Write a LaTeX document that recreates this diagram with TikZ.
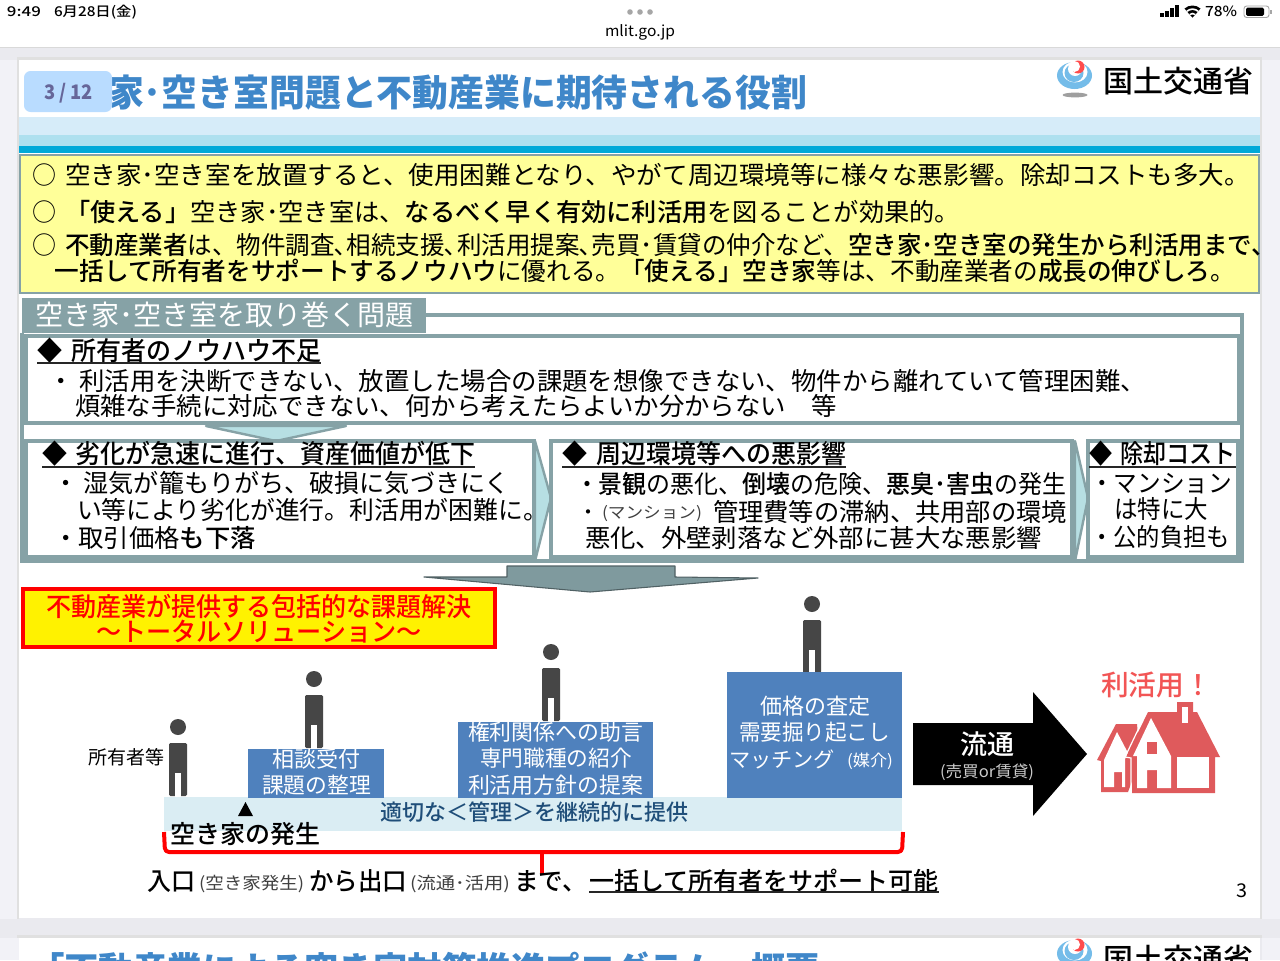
\documentclass[tikz,border=0pt]{standalone}
\usepackage{fontspec}
\usepackage{graphicx}
\setmainfont{Noto Sans CJK JP}
\newfontfamily\heavyf{Noto Sans CJK JP}
\newfontfamily\medf{Noto Sans CJK JP Medium}
\newcommand{\M}[1]{{\medf #1}}
\usetikzlibrary{calc}
\newlength\px \setlength\px{0.75pt}
\definecolor{pagebg}{HTML}{EAEAEF}
\definecolor{sideb}{HTML}{F2F2F7}
\definecolor{titleb}{HTML}{3F87C9}
\definecolor{frameg}{HTML}{86A2A6}
\definecolor{chev}{HTML}{B7DFE3}
\definecolor{bluebox}{HTML}{4F81BD}
\definecolor{lband}{HTML}{DAEDF3}
\definecolor{yelbox}{HTML}{FFFF99}
\definecolor{housered}{HTML}{DF5A5C}
\definecolor{redtxt}{HTML}{F25555}
\definecolor{figgray}{HTML}{464646}
\definecolor{logoblue}{HTML}{74BCE9}
\definecolor{bandA}{HTML}{D6ECF9}
\definecolor{bandB}{HTML}{AEE0EF}
\definecolor{bandC}{HTML}{00A9D8}
\definecolor{badgeb}{HTML}{B9DCFF}
\definecolor{bandtxt}{HTML}{1F4E79}
\tikzset{
  txt/.style={anchor=base west,inner sep=0pt,outer sep=0pt},
  framebox/.style={draw=frameg,line width=2.4pt,fill=white},
  chevron/.style={draw=frameg,line width=1.8pt,fill=chev,line join=round},
  uline/.style={draw=black!85,line width=1pt},
  bluefill/.style={fill=bluebox},
  redline/.style={draw=red,line width=3pt,line join=round}
}
% [style]{name}{x0}{x1}{y centre}{size px}{text}
\newcommand{\tx}[7][]{%
  \node[txt,#1] (#2) at (#3,{#5+0.36*#6})
    {\resizebox{\dimexpr\numexpr#4-#3\relax\px\relax}{\height}{\fontsize{\the\dimexpr#6\px\relax}{\the\dimexpr#6\px\relax}\selectfont #7}};}
\newcommand{\Pers}[2]{% x centre, body top
  \fill[figgray] (#1,#2-16) circle[radius=8];
  \fill[figgray,rounded corners=1pt] (#1-9,#2) rectangle (#1+9,#2+53);
  \fill[white] (#1-3,#2+30) rectangle (#1+3,#2+54);}
\newcommand{\Logo}[1]{% y offset
  \begin{scope}[yshift=#1*-0.75pt]
  \fill[logoblue] (1074.5,75.5) ellipse[x radius=17.5,y radius=13.5];
  \fill[white] (1075,72) ellipse[x radius=12.5,y radius=10.5];
  \fill[logoblue] (1074,73) ellipse[x radius=9.5,y radius=9];
  \fill[white] (1075,69) ellipse[x radius=7,y radius=7];
  \fill[red!70!white] (1078,67) ellipse[x radius=6.5,y radius=6.5];
  \fill[white] (1074.5,66.5) ellipse[x radius=5.5,y radius=5.5];
  \fill[gray!75] (1075,95) ellipse[x radius=12.5,y radius=2.4];
  \end{scope}}
\newcommand{\dia}{◆\hspace{.36em}}
\begin{document}
\begin{tikzpicture}[x=0.75pt,y=-0.75pt]
\useasboundingbox (0,0) rectangle (1280,960);
\clip (0,0) rectangle (1280,960);
% page background
\fill[pagebg] (0,0) rectangle (1280,960);
\fill[sideb] (0,47) rectangle (19,960);
\fill[sideb] (1262,47) rectangle (1280,960);
\fill[pagebg] (0,47) rectangle (1280,60);
\fill[pagebg] (0,919) rectangle (1280,938);
\fill[black!12] (17,57) rectangle (1262,60);
\fill[black!12] (17,60) rectangle (19,919);
\fill[black!12] (1260,60) rectangle (1262,919);
\fill[black!12] (17,935) rectangle (1262,938);
\fill[white] (0,0) rectangle (1280,47);
\draw[black!15,line width=.75pt] (0,47.5) -- (1280,47.5);
% status bar
\tx{clock}{7}{41}{11.5}{13.5}{\M{9:49}}
\tx{date}{54}{137}{11.5}{13.5}{\M{6月28日(金)}}
\tx{url}{605}{675}{31}{15}{mlit.go.jp}
\tx{batt}{1205}{1237}{11.5}{14}{\M{78\%}}
\foreach \cx in {630,640,650} \fill[gray!70] (\cx,12) circle[radius=2.8];
\foreach \bx/\bh in {1160/4,1165/6,1170/9,1175/12} \fill[black] (\bx,17) rectangle (\bx+3.5,17-\bh);
\fill[black] (1192.5,17.5) -- +(228:12) arc[start angle=228,end angle=312,radius=12] -- cycle;
\fill[white] (1192.5,17.5) -- +(228:9.2) arc[start angle=228,end angle=312,radius=9.2] -- cycle;
\fill[black] (1192.5,17.5) -- +(228:7.4) arc[start angle=228,end angle=312,radius=7.4] -- cycle;
\fill[white] (1192.5,17.5) -- +(228:4.8) arc[start angle=228,end angle=312,radius=4.8] -- cycle;
\fill[black] (1192.5,17.5) -- +(228:3) arc[start angle=228,end angle=312,radius=3] -- cycle;
\draw[gray!70,line width=.7pt,rounded corners=2pt] (1244,6) rectangle (1269,17.5);
\fill[black,rounded corners=1pt] (1246,7.7) rectangle (1264,15.8);
\fill[gray!70] (1270,10) rectangle (1272,14);
% slide 1
\fill[white] (19,60) rectangle (1260,918);
\fill[bandA] (19,117) rectangle (1260,135);
\fill[bandB] (19,135) rectangle (1260,146);
\fill[bandC] (19,146) rectangle (1260,153);
\tx[text=titleb]{title}{108}{807}{93}{37}{\heavyf\bfseries 家･空き室問題と不動産業に期待される役割}
\fill[badgeb,rounded corners=5pt] (24,71) rectangle (112,112);
\tx[text=gray!80!blue]{badge}{44}{93}{92}{20}{\heavyf\bfseries 3 / 12}
\Logo{0}
\tx{mlit}{1103}{1253}{82}{30}{\M{国土交通省}}
% yellow box
\path[draw=frameg,line width=2.2pt,fill=yelbox] (20,155) rectangle (1259,293);
\tx{bulA}{32}{56}{175}{25}{○}
\tx{lineA}{65}{1250}{175}{25}{空き家･空き室を放置すると、使用困難となり、やがて周辺環境等に様々な悪影響。除却コストも多大。}
\tx{bulB}{32}{56}{212}{25}{○}
\tx{lineB}{65}{960}{212}{25}{\M{「使える」}空き家･空き室は、\M{なるべく早く有効に利活用}を図ることが効果的。}
\tx{bulC}{32}{56}{245}{25}{○}
\tx{lineC}{65}{1276}{245}{25}{\M{不動産業者}は、物件調査､相続支援､利活用提案､売買･賃貸の仲介など、\M{空き家･空き室の発生から利活用まで、}}
\tx{lineD}{55}{1235}{271}{25}{\M{一括して所有者をサポートするノウハウ}に優れる。\M{「使える」空き家}等は、不動産業者の\M{成長の伸びしろ}。}
% problems section
\draw[draw=frameg,line width=2.4pt] (426,315) -- (1242,315) -- (1242,561) -- (22,561) -- (22,333);
\fill[frameg] (22,298) rectangle (426,333);
\tx[text=white]{sect}{35}{414}{315}{28}{空き家･空き室を取り巻く問題}
% box 1
\path[framebox] (26,336) rectangle (1239,423);
\tx{h1}{37}{321}{351}{26}{\M{\dia 所有者のノウハウ不足}}
\draw[uline] (37,363) -- (321,363);
\tx{b1a}{48}{1146}{381}{25}{・ 利活用を決断できない、放置した場合の課題を想像できない、物件から離れていて管理困難、}
\tx{b1b}{75}{837}{406}{25}{煩雑な手続に対応できない、何から考えたらよいか分からない　等}
% chevrons
\path[chevron] (206,426) -- (346,426) -- (276,441) -- cycle;
\path[chevron] (535,441) -- (551,498) -- (535,561) -- cycle;
\path[chevron] (1075,441) -- (1088,498) -- (1075,561) -- cycle;
% box 2
\path[framebox] (26,441) rectangle (534,557);
\tx{h2}{42}{475}{454}{26}{\M{\dia 劣化が急速に進行、資産価値が低下}}
\draw[uline] (42,467) -- (475,467);
\tx{b2a}{53}{510}{483}{25}{・ 湿気が籠もりがち、破損に気づきにく}
\tx{b2b}{77}{548}{510}{25}{い等により劣化が進行。利活用が困難に。}
\tx{b2c}{53}{256}{538}{25}{・取引価格\M{も下落}}
% box 3
\path[framebox] (551,441) rectangle (1072,557);
\tx{h3}{562}{846}{454}{26}{\M{\dia 周辺環境等への悪影響}}
\draw[uline] (562,467) -- (846,467);
\tx{b3a}{575}{1066}{484}{25}{・\M{景観}の悪化、\M{倒壊}の危険、\M{悪臭･害虫}の発生}
\tx{b3bd}{578}{598}{512}{20}{・}
\tx[text=black!75]{b3bs}{602}{702}{513}{16}{(マンション)}
\tx{b3b}{713}{1067}{512}{25}{管理費等の滞納、共用部の環境}
\tx{b3c}{585}{1042}{538}{25}{悪化、外壁剥落など外部に甚大な悪影響}
% box 4
\path[framebox] (1088,441) rectangle (1238,557);
\tx{h4}{1089}{1236}{454}{26}{\M{\dia 除却コスト}}
\draw[uline] (1089,467) -- (1236,467);
\tx{b4a}{1090}{1232}{483}{25}{・マンション}
\tx{b4b}{1114}{1208}{509}{25}{は特に大}
\tx{b4c}{1090}{1230}{537}{25}{・公的負担も}
% big down arrow
\path[fill=frameg!95!black,draw=frameg!60!black,line width=.8pt,line join=round] (507,566) -- (675,566) -- (675,577) -- (758,578) -- (590,592) -- (424,577) -- (507,577) -- cycle;
% red box
\path[draw=red,line width=2.6pt,fill=yellow] (23,589) rectangle (495,647);
\tx[text=red]{ra}{46}{472}{607}{26}{\M{不動産業が提供する包括的な課題解決}}
\tx[text=red]{rb}{96}{422}{632}{26}{\M{～トータルソリューション～}}
% light band
\fill[lband] (164,797) rectangle (902,831);
% persons
\Pers{178}{743}
\Pers{314}{695}
\Pers{551}{668}
\Pers{812}{620}
\tx{owner}{88}{164}{758}{19}{所有者等}
% blue boxes
\fill[bluefill] (248,749) rectangle (384,798);
\tx[text=white]{sa}{272}{360}{760}{22}{相談受付}
\tx[text=white]{sb}{262}{371}{786}{22}{課題の整理}
\fill[bluefill] (458,722) rectangle (653,798);
\tx[text=white]{ma}{468}{643}{733}{22}{権利関係への助言}
\tx[text=white]{mb}{480}{632}{759}{22}{専門職種の紹介}
\tx[text=white]{mc}{468}{643}{786}{22}{利活用方針の提案}
\fill[bluefill] (727,672) rectangle (902,798);
\tx[text=white]{la}{760}{870}{707}{22}{価格の査定}
\tx[text=white]{lb}{739}{890}{733}{22}{需要掘り起こし}
\tx[text=white]{lc}{729}{835}{760}{21}{マッチング}
\tx[text=white]{ld}{847}{893}{761}{16}{(媒介)}
% band text
\tx[text=bandtxt]{band}{380}{688}{813}{22}{\M{適切な＜管理＞を継続的に提供}}
\fill[black] (238,816) -- (245.5,802) -- (253,816) -- cycle;
\tx{akiya}{170}{320}{834}{25}{\M{空き家の発生}}
% red bracket
\coordinate (brL) at (164,832);
\coordinate (brR) at (903,832);
\coordinate (brM) at (542,852);
\coordinate (brB) at (542,875);
\draw[redline,rounded corners=3pt] (brL) -- (165,852) -- (902,852) -- (brR);
\draw[redline,line width=3.6pt] (brM) -- (brB);
% bottom sentence
\tx{fa}{147}{195}{881}{25}{\M{入口}}
\tx[text=black!75]{fb}{199}{304}{883}{17}{(空き家発生)}
\tx{fc}{309}{407}{881}{25}{\M{から出口}}
\tx[text=black!75]{fd}{410}{510}{883}{17}{(流通･活用)}
\tx{fe}{514}{587}{881}{25}{\M{まで、}}
\tx{ff}{589}{939}{881}{25}{\M{一括して所有者をサポート可能}}
\draw[uline] (589,892) -- (939,892);
% distribution arrow
\fill[black] (913,723) -- (1033,723) -- (1033,692) -- (1087,754) -- (1033,816) -- (1033,785) -- (913,785) -- cycle;
\tx[text=white]{flow}{960}{1014}{745}{27}{\M{流通}}
\tx[text=white!80!black]{flowb}{940}{1034}{772}{16}{(売買or賃貸)}
% use
\tx[text=redtxt]{use}{1101}{1212}{685}{28}{\M{利活用！}}
% house
\fill[housered] (1116,724) -- (1137,724) -- (1140,760) -- (1128,792) -- (1101,792) -- (1101,761) -- (1097,760) -- cycle;
\fill[white] (1117,732) -- (1128,753) -- (1125,759) -- (1125,787) -- (1122,787) -- (1122,772) -- (1114,772) -- (1114,787) -- (1104,787) -- (1104,760) -- cycle;
\fill[housered] (1148,712) -- (1177,712) -- (1177,702) -- (1193,702) -- (1193,712) -- (1197,712) -- (1220,757) -- (1215,757) -- (1215,793) -- (1132,793) -- (1132,757) -- (1126,757) -- cycle;
\draw[white,line width=.9pt] (1147,711) -- (1125,757) -- (1131,758) -- (1131,793);
\fill[white] (1182,707) rectangle (1188,723);
\fill[white] (1151,718) -- (1171,756) -- (1171,788) -- (1157,788) -- (1157,770) -- (1147,770) -- (1147,788) -- (1137,788) -- (1137,756) -- (1133,756) -- cycle;
\fill[housered] (1147,742) rectangle (1157,754);
\fill[white] (1177,757) rectangle (1209,788);
% page number
\tx{pg}{1236}{1247}{891}{19}{3}
% slide 2 (cut off)
\fill[white] (19,938) rectangle (1260,960);
\tx[text=titleb]{nexttitle}{30}{820}{970}{35}{\heavyf\bfseries 「不動産業による空き家対策推進プログラム」概要}
\Logo{878}
\tx{mlitb}{1103}{1253}{960}{30}{\M{国土交通省}}
\end{tikzpicture}
\end{document}
